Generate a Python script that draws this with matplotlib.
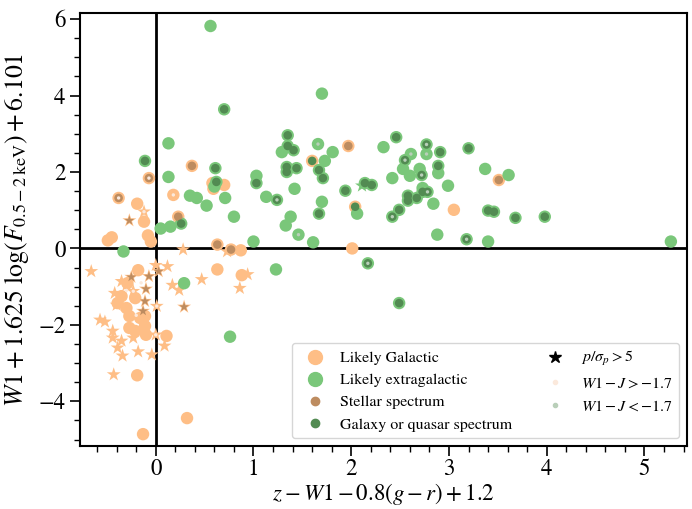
import numpy as np
import matplotlib
matplotlib.use("Agg")
import matplotlib.pyplot as plt
from matplotlib.lines import Line2D
from matplotlib.ticker import MultipleLocator

plt.rcParams["font.family"] = "serif"
plt.rcParams["font.serif"] = ["STIXGeneral", "DejaVu Serif"]
plt.rcParams["mathtext.fontset"] = "stix"

# likely Galactic, circles
gal_x = [0.37, 1.97, 1.60, -0.07, -0.38, 0.58, 0.70, 0.59, 0.18, -0.19,
         -0.12, -0.45, -0.49, -0.08, -0.05, 0.23, 0.63, 0.77, 0.87, 2.01,
         3.05, 3.51, 2.04, 0.63, 0.88, -0.18, 0.32, -0.13, -0.19, -0.27,
         -0.11, -0.10, 0.11, -0.21, -0.29, -0.35, -0.21, -0.30, -0.16, -0.39,
         -0.27, -0.11]
gal_y = [2.16, 2.68, 2.29, 1.84, 1.32, 1.71, 1.66, 1.56, 1.40, 1.17,
         0.70, 0.29, 0.21, 0.34, 0.18, 0.83, 0.10, -0.03, -0.05, 0.00,
         1.01, 1.79, 1.09, -0.55, -0.70, -0.57, -4.44, -4.86, -3.32, -2.08,
         -2.03, -2.26, -2.29, -2.16, -0.91, -1.25, -1.30, -1.56, -1.82, -1.43,
         -1.77, -1.77]

# likely Galactic, p/sigma_p > 5
gal_star_x = [-0.12, -0.27, 0.28, 0.73, 0.47, 0.94, 0.86, -0.66, 0.00, 0.12,
              0.03, -0.07, -0.25, 0.17, 0.24, 0.29, -0.23, -0.10, -0.11, -0.13,
              0.01, -0.57, -0.52, -0.44, 0.00, -0.44, -0.35, -0.23, 0.09, -0.39,
              -0.18, -0.34, -0.04, -0.43, -0.35, -0.42, -0.40, -0.30]
gal_star_y = [0.96, 0.73, -0.03, -0.08, -0.81, -0.68, -1.04, -0.60, -0.44, -0.47,
              -0.60, -0.73, -0.75, -0.96, -1.09, -1.53, -1.12, -1.06, -1.38, -1.64,
              -1.51, -1.87, -1.92, -2.16, -2.26, -2.34, -2.42, -2.34, -2.55, -2.60,
              -2.70, -2.81, -2.78, -3.30, -0.86, -1.17, -1.48, -0.96]

# likely extragalactic, circles
ext_x = [0.56, 1.70, 0.70, 1.35, 1.66, 2.46, 2.33, 0.13, -0.11, 0.61,
         1.29, 1.35, 1.41, 1.81, 1.73, 1.67, 1.71, 1.34, 1.34, 1.44,
         1.03, 1.03, 0.13, 0.62, 0.60, 1.42, 1.94, 2.14, 2.21, 2.42,
         0.35, 0.42, 0.71, 1.13, 1.24, 0.52, 0.80, 2.77, 2.61, 2.77,
         2.91, 3.20, 2.55, 2.53, 2.60, 2.70, 2.72, 2.89, 2.89, 1.70,
         2.06, 1.67, 2.49, 2.42, 2.58, 2.58, 2.67, 2.73, 2.73, 2.78,
         2.84, 2.99, 3.37, 3.61, 3.40, 3.46, 3.68, 3.98, 2.88, 3.18,
         3.40, 1.61, 1.46, 1.38, 1.33, 1.00, 0.26, 0.15, 0.05, -0.33,
         1.23, 0.29, 0.76, 5.27, 2.17, 2.49]
ext_y = [5.82, 4.05, 3.64, 2.96, 2.73, 2.91, 2.65, 2.75, 2.29, 2.10,
         2.52, 2.68, 2.57, 2.52, 2.29, 2.05, 1.84, 2.13, 2.00, 2.10,
         1.90, 1.71, 1.87, 1.74, 1.62, 1.56, 1.51, 1.71, 1.66, 1.84,
         1.38, 1.32, 1.32, 1.35, 1.27, 1.12, 0.83, 2.72, 2.47, 2.47,
         2.52, 2.62, 2.31, 2.08, 1.90, 2.08, 1.92, 2.16, 1.97, 1.22,
         0.91, 0.91, 1.01, 0.83, 1.38, 1.25, 1.32, 1.58, 1.48, 1.48,
         1.17, 1.64, 2.08, 1.92, 0.99, 0.96, 0.80, 0.83, 0.36, 0.24,
         0.18, 0.16, 0.36, 0.83, 0.60, 0.18, 0.65, 0.57, 0.52, -0.08,
         -0.55, -0.91, -2.31, 0.18, -0.39, -1.43]

# likely extragalactic, p/sigma_p > 5
ext_star_x = [2.11]
ext_star_y = [1.64]

# stellar spectrum (circles, then stars)
stel_x = [0.37, 1.97, -0.07, -0.38, 0.23, 0.63, 0.77, 3.51]
stel_y = [2.16, 2.68, 1.84, 1.32, 0.83, 0.10, -0.03, 1.79]
stel_star_x = [-0.27, 0.03, -0.07, -0.25, 0.29, -0.10, -0.11, -0.13]
stel_star_y = [0.73, -0.60, -0.73, -0.75, -1.53, -1.06, -1.38, -1.64]

# galaxy or quasar spectrum
galx_x = [0.70, 1.35, 2.46, -0.11, 0.61, 1.35, 1.41, 1.67, 1.71, 1.34,
          1.34, 1.44, 1.03, 0.62, 1.94, 2.14, 2.21, 1.24, 2.77, 2.91,
          3.20, 2.55, 2.72, 2.89, 1.67, 2.49, 2.42, 2.58, 2.58, 2.67,
          2.73, 2.78, 3.40, 3.46, 3.68, 3.98, 3.18, 0.26, 1.60, 2.04,
          2.17, 2.49]
galx_y = [3.64, 2.96, 2.91, 2.29, 2.10, 2.68, 2.57, 2.05, 1.84, 2.13,
          2.00, 2.10, 1.71, 1.74, 1.51, 1.71, 1.66, 1.27, 2.72, 2.52,
          2.62, 2.31, 1.92, 2.16, 0.91, 1.01, 0.83, 1.38, 1.25, 1.32,
          1.48, 1.48, 0.99, 0.96, 0.80, 0.83, 0.24, 0.65, 2.29, 1.09,
          -0.39, -1.43]

# W1 - J colour flags (small dots)
hiJ_x = [-0.07, -0.38, 0.18, -0.12, -0.23, 0.01, 0.00, -0.30, -0.20, -0.15]
hiJ_y = [1.84, 1.32, 1.40, 0.96, -1.12, -1.51, -2.26, -1.10, -1.75, -0.90]
loJ_x = [1.66, 2.77, 2.61, 2.77, 2.55, 2.72, 2.78, 2.42, 3.18, 1.24, 1.46, 2.17]
loJ_y = [2.73, 2.72, 2.47, 2.47, 2.31, 1.92, 1.48, 0.83, 0.24, 1.27, 0.36, -0.39]

c_gal = "#febe86"
c_ext = "#7ac77a"
c_stel = "#bd8c60"
c_galx = "#528b52"
c_hiJ = "#fbe9dc"
c_loJ = "#b9cfb9"

W, H = 692, 509
ax_left, ax_right, ax_top, ax_bottom = 80, 687, 13, 446

fig, ax = plt.subplots(figsize=(W / 100, H / 100), dpi=100)
fig.subplots_adjust(left=ax_left / W, right=ax_right / W,
                    top=1 - ax_top / H, bottom=1 - ax_bottom / H)

ax.axhline(0, color="k", lw=2, zorder=1)
ax.axvline(0, color="k", lw=2, zorder=1)

ax.scatter(gal_x, gal_y, s=80, color=c_gal, edgecolors="none", zorder=2)
ax.scatter(gal_star_x, gal_star_y, s=110, marker="*", color=c_gal, edgecolors="none", zorder=2)
ax.scatter(ext_x, ext_y, s=80, color=c_ext, edgecolors="none", zorder=3)
ax.scatter(ext_star_x, ext_star_y, s=110, marker="*", color=c_ext, edgecolors="none", zorder=3)
ax.scatter(stel_x, stel_y, s=38, color=c_stel, edgecolors="none", zorder=4)
ax.scatter(stel_star_x, stel_star_y, s=55, marker="*", color=c_stel, edgecolors="none", zorder=4)
ax.scatter(galx_x, galx_y, s=38, color=c_galx, edgecolors="none", zorder=4)
ax.scatter(hiJ_x, hiJ_y, s=6, color=c_hiJ, edgecolors="none", zorder=5)
ax.scatter(loJ_x, loJ_y, s=6, color=c_loJ, edgecolors="none", zorder=5)

ax.set_xlim(-0.775, 5.435)
ax.set_ylim(-5.17, 6.16)
ax.xaxis.set_major_locator(MultipleLocator(1))
ax.xaxis.set_minor_locator(MultipleLocator(0.2))
ax.yaxis.set_major_locator(MultipleLocator(2))
ax.yaxis.set_minor_locator(MultipleLocator(0.5))
ax.tick_params(which="major", length=7, width=1.2, labelsize=16.5)
ax.tick_params(axis="x", which="major", pad=2)
ax.tick_params(which="minor", length=4, width=1.0)
for sp in ax.spines.values():
    sp.set_linewidth(1.5)

# x label anchored by its bottom, just above the lower figure edge
ax.set_xlabel(r"$z - W1 - 0.8(g - r) + 1.2$", fontsize=16.5, va="bottom")
ax.xaxis.set_label_coords(0.5, -(H - ax_bottom - 2) / (ax_bottom - ax_top))
ax.set_ylabel(r"$W1 + 1.625\ \log(F_{0.5-2\,\mathrm{keV}}) + 6.101$", fontsize=18.5, labelpad=5)

handles = [
    Line2D([], [], ls="none", marker="o", ms=10, color=c_gal),
    Line2D([], [], ls="none", marker="o", ms=10, color=c_ext),
    Line2D([], [], ls="none", marker="o", ms=6, color=c_stel),
    Line2D([], [], ls="none", marker="o", ms=6, color=c_galx),
    Line2D([], [], ls="none", marker="*", ms=9, color="k"),
    Line2D([], [], ls="none", marker="o", ms=3, color=c_hiJ),
    Line2D([], [], ls="none", marker="o", ms=3, color=c_loJ),
]
labels = ["Likely Galactic", "Likely extragalactic", "Stellar spectrum",
          "Galaxy or quasar spectrum", r"$p/\sigma_p > 5$",
          r"$W1 - J > -1.7$", r"$W1 - J < -1.7$"]
ax.legend(handles, labels, ncol=2, loc="lower right", fontsize=11.5,
          columnspacing=1.7, handletextpad=0.6)

fig.savefig("out.png", dpi=100)
